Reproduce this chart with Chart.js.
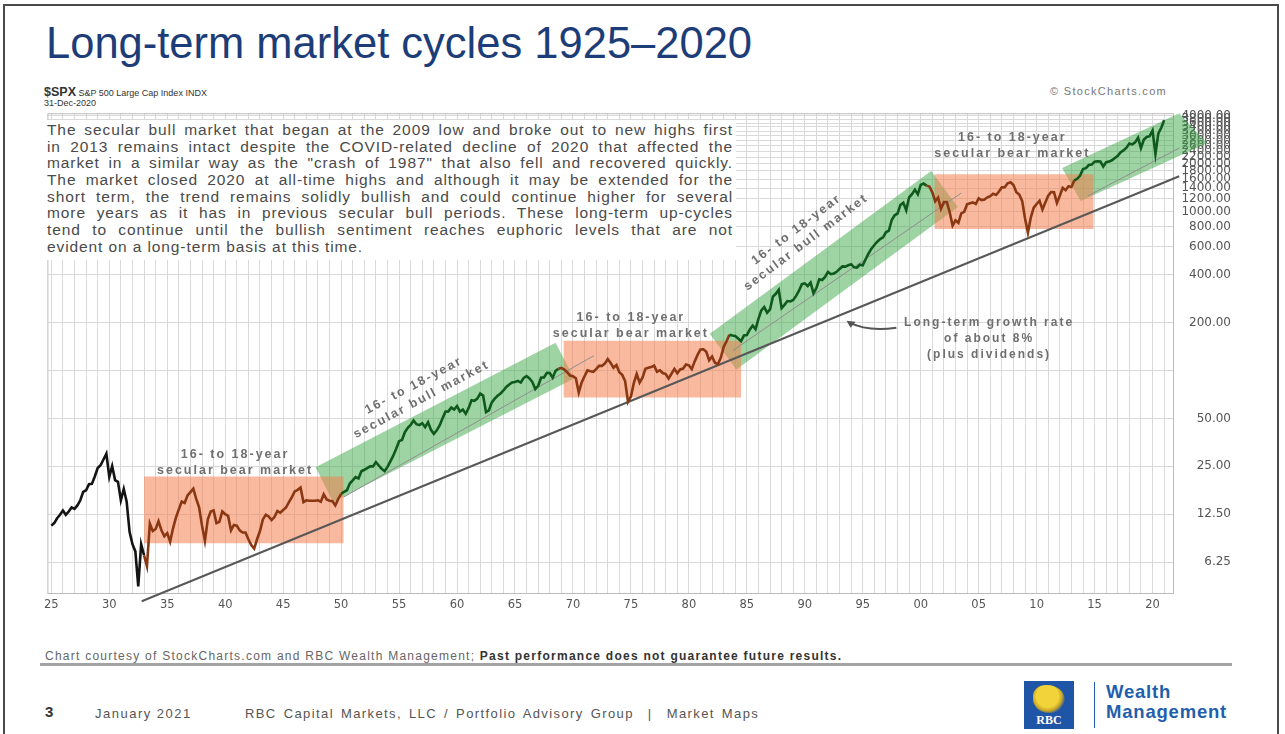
<!DOCTYPE html>
<html>
<head>
<meta charset="utf-8">
<script src="https://cdn.jsdelivr.net/npm/chart.js@4.4.0/dist/chart.umd.min.js"></script>
<style>
html, body { margin: 0; padding: 0; background: #fff; }
body { width: 1285px; height: 734px; position: relative; overflow: hidden; font-family: "Liberation Sans", Arial, sans-serif; }
#frame { position: absolute; left: 3px; top: 4px; width: 1276px; height: 760px; border: 2px solid #4a4a4a; box-sizing: border-box; }
#title { position: absolute; left: 46px; top: 19px; font-size: 43.5px; line-height: 48px; color: #1c3d78; white-space: nowrap; }
#sym { position: absolute; left: 44px; top: 85px; font-size: 9px; color: #333; white-space: nowrap; }
#sym b { font-size: 12.5px; }
#date { position: absolute; left: 44px; top: 98px; font-size: 9px; color: #333; }
#credit { position: absolute; left: 1050px; top: 85px; font-size: 11px; letter-spacing: 1.3px; color: #777; white-space: nowrap; }
#chart-wrap { position: absolute; left: 40px; top: 102px; width: 1191px; height: 514px; }
#note { position: absolute; left: 44px; top: 120px; width: 692px; height: 140px; background: #fff; padding: 2px 3px; box-sizing: border-box; color: #4a4a4a; font-size: 15.5px; letter-spacing: 0.9px; }
#note div { height: 16.7px; line-height: 16.7px; text-align: justify; text-align-last: justify; white-space: nowrap; }
#note div.last { text-align-last: left; }
#courtesy { position: absolute; left: 45px; top: 649px; font-size: 12px; letter-spacing: 1.25px; color: #666; white-space: nowrap; }
#courtesy b { color: #333; }
#rule { position: absolute; left: 40px; top: 663px; width: 1192px; height: 3px; background: #a3a3a3; }
#page { position: absolute; left: 45px; top: 703px; font-size: 15px; font-weight: bold; color: #333; }
#month { position: absolute; left: 95px; top: 706px; font-size: 13px; letter-spacing: 1.5px; color: #555; white-space: nowrap; }
#group { position: absolute; left: 245px; top: 706px; font-size: 13px; letter-spacing: 1.4px; word-spacing: 2px; color: #555; white-space: nowrap; }
#logo { position: absolute; left: 1024px; top: 681px; width: 50px; height: 48px; background: #1f55a6; overflow: hidden; }
#logo .lion { position: absolute; left: 9px; top: 4px; width: 32px; height: 28px; border-radius: 40% 55% 45% 50%; background: radial-gradient(circle at 45% 40%, #f2d43a 0 45%, #c9a628 60%, #1f55a6 75%); }
#logo .rbc { position: absolute; left: 0; width: 50px; bottom: 1px; text-align: center; font: bold 12px "Liberation Serif", serif; color: #fff; }
#vline { position: absolute; left: 1094px; top: 682px; width: 1px; height: 46px; background: #1f5fae; }
#wm { position: absolute; left: 1106px; top: 682px; font-size: 18.5px; line-height: 20px; letter-spacing: 0.8px; font-weight: bold; color: #1f5fae; }
</style>
</head>
<body>
<div id="frame"></div>
<div id="title">Long-term market cycles 1925–2020</div>
<div id="sym"><b>$SPX</b> S&amp;P 500 Large Cap Index INDX</div>
<div id="date">31-Dec-2020</div>
<div id="credit">© StockCharts.com</div>

<div id="chart-wrap"><canvas id="spxChart" width="1191" height="514"></canvas></div>

<div id="note">
  <div>The secular bull market that began at the 2009 low and broke out to new highs first</div>
  <div>in 2013 remains intact despite the COVID-related decline of 2020 that affected the</div>
  <div>market in a similar way as the "crash of 1987" that also fell and recovered quickly.</div>
  <div>The market closed 2020 at all-time highs and although it may be extended for the</div>
  <div>short term, the trend remains solidly bullish and could continue higher for several</div>
  <div>more years as it has in previous secular bull periods. These long-term up-cycles</div>
  <div>tend to continue until the bullish sentiment reaches euphoric levels that are not</div>
  <div class="last">evident on a long-term basis at this time.</div>
</div>

<div id="courtesy">Chart courtesy of StockCharts.com and RBC Wealth Management; <b>Past performance does not guarantee future results.</b></div>
<div id="rule"></div>
<div id="page">3</div>
<div id="month">January 2021</div>
<div id="group">RBC Capital Markets, LLC / Portfolio Advisory Group &nbsp;|&nbsp; Market Maps</div>
<div id="logo"><div class="lion"></div><div class="rbc">RBC</div></div>
<div id="vline"></div>
<div id="wm">Wealth<br>Management</div>

<script>
// --- Data ---
const startYear = 1925; // first point is Jan 1925, then quarter closes
const spxQuarterly = [
    10.6,
    11.0, 11.8, 12.4, 13.2,   // 1925
    12.4, 13.0, 13.8, 13.5,   // 1926
    14.2, 15.3, 17.3, 17.7,
    19.3, 19.4, 21.6, 24.4,
    25.4, 27.6, 30.0, 21.5,   // 1929
    25.1, 20.5, 20.0, 15.3,
    18.0, 15.0, 9.7, 8.1,
    7.3, 4.4, 8.1, 6.9,       // 1932
    5.9, 10.9, 9.8, 10.1,
    11.3, 9.9, 9.1, 9.5,
    8.4, 10.2, 11.9, 13.4,    // 1935
    15.0, 14.7, 16.4, 17.2,
    18.1, 15.6, 13.8, 10.6,
    8.5, 11.6, 13.0, 13.2,
    11.0, 11.2, 13.0, 12.5,
    12.2, 9.9, 10.7, 10.6,    // 1940
    9.9, 9.6, 9.6, 8.7,
    8.0, 7.6, 8.7, 9.8,
    11.6, 12.4, 12.1, 11.5,
    12.0, 13.1, 12.8, 13.3,
    13.8, 14.9, 16.0, 17.4,   // 1945
    17.8, 18.4, 14.9, 15.3,
    15.2, 15.2, 15.2, 15.3,
    15.0, 16.7, 15.5, 15.2,
    15.1, 14.2, 15.6, 16.8,
    17.3, 17.7, 19.5, 20.4,   // 1950
    21.4, 21.0, 23.3, 23.8,
    24.4, 25.0, 25.0, 26.6,
    25.3, 24.1, 23.3, 24.8,
    26.9, 29.2, 32.3, 36.0,
    36.6, 41.0, 43.7, 45.5,   // 1955
    48.5, 46.0, 45.4, 46.7,
    44.1, 47.4, 42.4, 40.0,
    42.1, 45.2, 50.1, 55.2,
    55.4, 58.5, 56.9, 59.9,
    55.3, 56.9, 53.5, 58.1,   // 1960
    65.1, 64.6, 66.7, 71.6,
    69.6, 54.8, 56.3, 63.1,
    66.6, 69.4, 71.7, 75.0,
    78.9, 81.7, 84.2, 84.8,
    86.2, 84.1, 90.0, 92.4,   // 1965
    89.2, 84.7, 76.6, 80.3,
    90.2, 90.6, 96.7, 96.5,
    90.2, 99.6, 102.7, 103.9,
    101.5, 97.7, 93.1, 92.1,
    89.6, 72.7, 84.2, 92.2,   // 1970
    100.3, 99.0, 98.3, 102.1,
    107.2, 107.1, 110.6, 118.1,
    111.5, 104.3, 108.4, 97.6,
    94.0, 86.0, 63.5, 68.6,
    83.4, 95.2, 83.9, 90.2,   // 1975
    102.8, 104.3, 105.2, 107.5,
    98.4, 100.5, 96.5, 95.1,
    89.2, 95.5, 102.5, 96.1,
    101.6, 102.9, 109.3, 107.9,
    102.1, 114.2, 125.5, 135.8, // 1980
    136.0, 131.2, 116.2, 122.6,
    112.0, 109.6, 120.4, 140.6,
    153.0, 168.1, 166.1, 164.9,
    159.2, 153.2, 166.1, 167.2,
    180.7, 191.9, 182.1, 211.3, // 1985
    238.9, 250.8, 231.3, 242.2,
    291.7, 304.0, 321.8, 247.1,
    258.9, 273.5, 271.9, 277.7,
    294.9, 318.0, 349.2, 353.4,
    339.9, 358.0, 306.1, 330.2, // 1990
    375.2, 371.2, 387.9, 417.1,
    403.7, 408.1, 417.8, 435.7,
    451.7, 450.5, 458.9, 466.5,
    445.8, 444.3, 462.7, 459.3,
    500.7, 544.8, 584.4, 615.9, // 1995
    645.5, 670.6, 687.3, 740.7,
    757.1, 885.1, 947.3, 970.4,
    1101.8, 1133.8, 1017.0, 1229.2,
    1286.4, 1372.7, 1282.7, 1469.3,
    1498.6, 1454.6, 1436.5, 1320.3, // 2000
    1160.3, 1224.4, 1040.9, 1148.1,
    1147.4, 989.8, 815.3, 879.8,
    848.2, 974.5, 996.0, 1111.9,
    1126.2, 1140.8, 1114.6, 1211.9,
    1180.6, 1191.3, 1228.8, 1248.3, // 2005
    1294.8, 1270.2, 1335.9, 1418.3,
    1420.9, 1503.4, 1526.8, 1468.4,
    1322.7, 1280.0, 1166.4, 903.3,
    735.0, 919.3, 1057.1, 1115.1,
    1169.4, 1030.7, 1141.2, 1257.6, // 2010
    1325.8, 1320.6, 1131.4, 1257.6,
    1408.5, 1362.2, 1440.7, 1426.2,
    1569.2, 1606.3, 1681.6, 1848.4,
    1872.3, 1960.2, 1972.3, 2058.9,
    2067.9, 2063.1, 1920.0, 2043.9, // 2015
    2059.7, 2098.9, 2168.3, 2238.8,
    2362.7, 2423.4, 2519.4, 2673.6,
    2640.9, 2718.4, 2914.0, 2506.9,
    2834.4, 2941.8, 2976.7, 3230.8,
    2300.0, 3100.3, 3363.0, 3756.1  // 2020
];

// cycle colouring of the price line: [from year, colour]
const cyclePhases = [
    [1900, '#141414'],
    [1933.0, '#8a3712'],
    [1950.0, '#0e5a1d'],
    [1968.75, '#8a3712'],
    [1983.5, '#0e5a1d'],
    [2000.5, '#8a3712'],
    [2013.25, '#0e5a1d']
];

// secular bear boxes: [from year, to year, low, high]
const bearBoxes = [
    [1933.0, 1950.2, 8.2, 21.6],
    [1969.2, 1984.5, 67.7, 154],
    [2001.2, 2014.9, 777, 1714]
];

// secular bull channels: corners as [year, value]
const bullBands = [
    [[1947.8, 24.7], [1968.5, 149.8], [1970.1, 89.1], [1949.3, 14.9]],
    [[1981.8, 170.5], [2000.9, 1796], [2003.2, 1068], [1984.1, 101.4]],
    [[2012.2, 1876], [2022.3, 4150], [2024.7, 2691], [2013.8, 1165]]
];

// trend lines: [[year, value], [year, value]]
const longTermTrend = [[1932.8, 3.55], [2022.3, 1665]];
const channelLines = [
    [[1950.2, 16.0], [1971.8, 124]],
    [[1983.8, 133.7], [2003.5, 1307]],
    [[2014.4, 1252], [2022.3, 2504]]
];

// axis ticks
const xMin = 1924.66, xMax = 2021.85;
const xLabelYears = [1925, 1930, 1935, 1940, 1945, 1950, 1955, 1960, 1965, 1970, 1975, 1980, 1985, 1990, 1995, 2000, 2005, 2010, 2015, 2020];
const xTickLabels = ['25', '30', '35', '40', '45', '50', '55', '60', '65', '70', '75', '80', '85', '90', '95', '00', '05', '10', '15', '20'];
const yMin = 3.94, yMax = 4150;
const yTickValues = [6.25, 12.5, 25, 50, 100, 200, 400, 600, 800, 1000, 1200, 1400, 1600, 1800, 2000, 2200, 2400, 2600, 2800, 3000, 3200, 3400, 3600, 3800, 4000];
const yTickLabels = ['6.25', '12.50', '25.00', '50.00', '', '200.00', '400.00', '600.00', '800.00', '1000.00', '1200.00', '1400.00', '1600.00', '1800.00', '2000.00', '2200.00', '2400.00', '2600.00', '2800.00', '3000.00', '3200.00', '3400.00', '3600.00', '3800.00', '4000.00'];

// --- Text notes on the chart (anchored in data space) ---
const cycleNotes = [
    { yr: 1940.85, v: 26.3, rot: 0, lines: ['16- to 18-year', 'secular bear market'] },
    { yr: 1975.0, v: 193, rot: 0, lines: ['16- to 18-year', 'secular bear market'] },
    { yr: 2007.9, v: 2596, rot: 0, lines: ['16- to 18-year', 'secular bear market'] },
    { yr: 1956.6, v: 72.8, rot: -28, lines: ['16- to 18-year', 'secular bull market'] },
    { yr: 1989.7, v: 703, rot: -37, lines: ['16- to 18-year', 'secular bull market'] }
];
const growthNote = { yr: 2005.9, v: 158, lines: ['Long-term growth rate', 'of about 8%', '(plus dividends)'] };
const growthArrow = [[1997.9, 186], [1993.6, 206]];

const bullFill = 'rgba(62, 168, 72, 0.5)';
const bearFill = 'rgba(243, 128, 78, 0.55)';

function phaseColor(year) {
    let c = cyclePhases[0][1];
    cyclePhases.forEach(([from, col]) => { if (year >= from) c = col; });
    return c;
}

const toPoints = pts => pts.map(([x, y]) => ({ x, y }));

// --- Plugin: plot frame, shaded cycles and notes ---
const cyclePlugin = {
    id: 'cycles',
    beforeDatasetsDraw(chart) {
        const { ctx, chartArea: a, scales: { x, y } } = chart;
        ctx.save();
        ctx.strokeStyle = '#bcbcbc';
        ctx.lineWidth = 1;
        ctx.strokeRect(a.left + 0.5, a.top + 0.5, a.right - a.left - 1, a.bottom - a.top - 1);

        const poly = (pts, color) => {
            ctx.beginPath();
            pts.forEach(([yr, v], i) => {
                const px = x.getPixelForValue(yr), py = y.getPixelForValue(v);
                if (i === 0) ctx.moveTo(px, py); else ctx.lineTo(px, py);
            });
            ctx.closePath();
            ctx.fillStyle = color;
            ctx.fill();
        };
        bullBands.forEach(b => poly(b, bullFill));
        bearBoxes.forEach(([x0, x1, lo, hi]) => poly([[x0, lo], [x0, hi], [x1, hi], [x1, lo]], bearFill));
        ctx.restore();
    },
    afterDatasetsDraw(chart) {
        const { ctx, scales: { x, y } } = chart;
        ctx.save();
        ctx.fillStyle = '#6f6f6f';
        ctx.textAlign = 'center';
        ctx.textBaseline = 'middle';
        ctx.font = 'bold 12.5px "Liberation Sans", Arial, sans-serif';
        ctx.letterSpacing = '2px';
        cycleNotes.forEach(n => {
            ctx.save();
            ctx.translate(x.getPixelForValue(n.yr), y.getPixelForValue(n.v));
            ctx.rotate(n.rot * Math.PI / 180);
            ctx.fillText(n.lines[0], 0, -8);
            ctx.fillText(n.lines[1], 0, 8);
            ctx.restore();
        });

        // growth-rate note with arrow
        ctx.font = 'bold 12px "Liberation Sans", Arial, sans-serif';
        ctx.letterSpacing = '2px';
        const gx = x.getPixelForValue(growthNote.yr), gy = y.getPixelForValue(growthNote.v);
        growthNote.lines.forEach((t, i) => ctx.fillText(t, gx, gy + (i - 1) * 16));

        const [s, e] = growthArrow;
        const sx = x.getPixelForValue(s[0]), sy = y.getPixelForValue(s[1]);
        const ex = x.getPixelForValue(e[0]), ey = y.getPixelForValue(e[1]);
        ctx.strokeStyle = '#555';
        ctx.lineWidth = 2;
        ctx.beginPath();
        ctx.moveTo(sx, sy);
        ctx.quadraticCurveTo((sx + ex) / 2 - 4, sy + 4, ex + 3, ey + 2);
        ctx.stroke();
        ctx.fillStyle = '#555';
        ctx.beginPath();
        ctx.moveTo(ex, ey);
        ctx.lineTo(ex + 9, ey + 1);
        ctx.lineTo(ex + 4, ey + 7);
        ctx.closePath();
        ctx.fill();
        ctx.restore();
    }
};

// --- Chart ---
const priceData = spxQuarterly.map((v, i) => ({ x: startYear + i * 0.25, y: v }));

const datasets = [
    {
        data: priceData,
        borderWidth: 2.6,
        borderColor: '#0e5a1d',
        segment: { borderColor: c => phaseColor(c.p0.parsed.x) },
        pointRadius: 0,
        tension: 0
    },
    {
        data: toPoints(longTermTrend),
        borderColor: '#585858',
        borderWidth: 2,
        pointRadius: 0,
        clip: false
    }
];
channelLines.forEach(l => datasets.push({
    data: toPoints(l),
    borderColor: '#8e8e8e',
    borderWidth: 1,
    pointRadius: 0,
    clip: false
}));

new Chart(document.getElementById('spxChart'), {
    type: 'line',
    data: { datasets },
    options: {
        responsive: false,
        animation: false,
        layout: { padding: { top: 10, left: 0, right: 0, bottom: 0 } },
        plugins: { legend: { display: false }, tooltip: { enabled: false } },
        scales: {
            x: {
                type: 'linear',
                min: xMin,
                max: xMax,
                afterBuildTicks: ax => {
                    const t = [];
                    for (let yr = 1925; yr <= 2021; yr++) t.push({ value: yr });
                    ax.ticks = t;
                },
                afterFit: ax => { ax.height = 22; },
                grid: { color: '#d9d9d9', drawTicks: false },
                border: { display: false },
                ticks: {
                    autoSkip: false,
                    maxRotation: 0,
                    padding: 4,
                    color: '#555',
                    font: { family: 'DejaVu Sans', size: 11.5 },
                    callback: v => {
                        const i = xLabelYears.indexOf(v);
                        return i >= 0 ? xTickLabels[i] : '';
                    }
                }
            },
            y: {
                type: 'logarithmic',
                position: 'right',
                min: yMin,
                max: yMax,
                afterBuildTicks: ax => { ax.ticks = yTickValues.map(v => ({ value: v })); },
                afterFit: ax => { ax.width = 57; },
                grid: { color: '#d9d9d9', drawTicks: false },
                border: { display: false },
                ticks: {
                    autoSkip: false,
                    crossAlign: 'far',
                    padding: 4,
                    color: '#555',
                    font: { family: 'DejaVu Sans', size: 12 },
                    callback: (v, i) => yTickLabels[i]
                }
            }
        }
    },
    plugins: [cyclePlugin]
});
</script>
</body>
</html>
